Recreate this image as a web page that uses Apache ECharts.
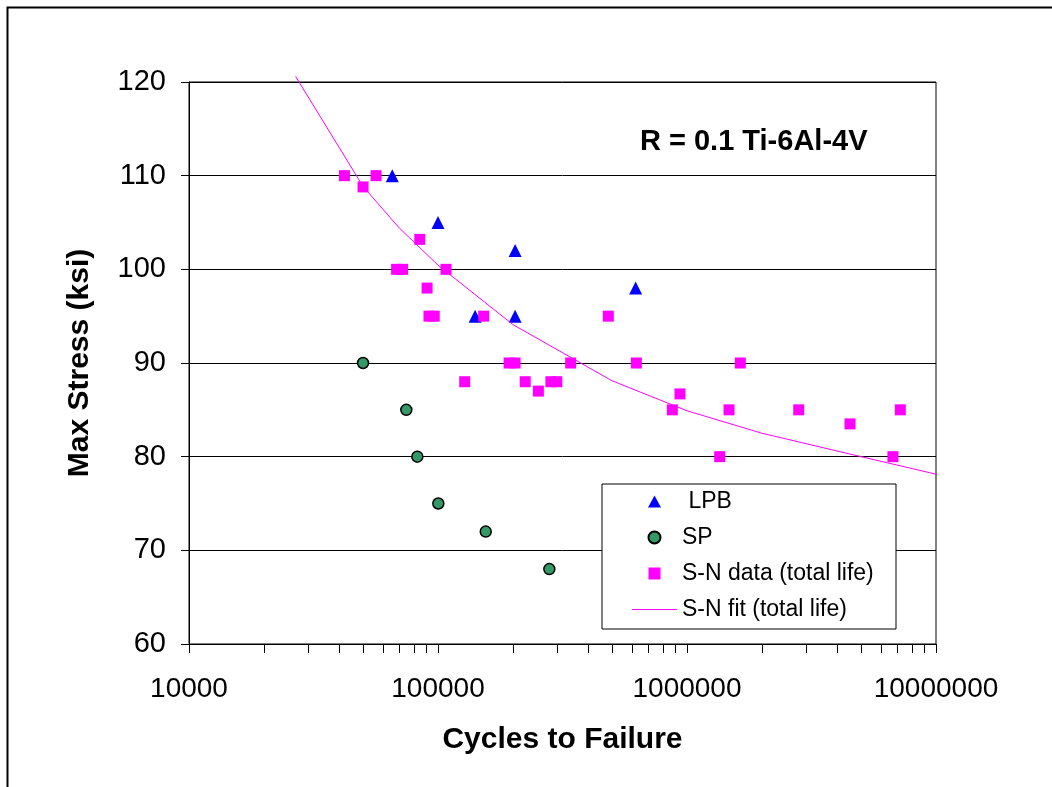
<!DOCTYPE html>
<html>
<head>
<meta charset="utf-8">
<script src="https://cdn.jsdelivr.net/npm/echarts@6/dist/echarts.min.js"></script>
<style>
html,body{margin:0;padding:0;background:#fff;}
#chart{width:1052px;height:787px;}
</style>
</head>
<body>
<div id="chart"></div>
<script>
// ---- data ----
const lpbN = [65500, 100000, 204000, 141000, 204000, 622000];
const lpbS = [110, 105, 102, 95, 95, 98];

const spN = [50000, 74600, 82600, 100300, 155500, 280000];
const spS = [90, 85, 80, 75, 72, 68];

const snN = [42100, 56400, 50000, 84500, 68200, 72100, 107700, 90400, 92000, 96600,
             152600, 193000, 204000, 341000, 128000, 224000, 253000, 284000, 300000, 483000,
             626000, 1637000, 937000, 873000, 1475000, 2810000, 7190000, 4515000, 1353000, 6714000];
const snS = [110, 110, 108.8, 103.2, 100, 100, 100, 98, 95, 95,
             95, 90, 90, 90, 88, 88, 87, 88, 88, 95,
             90, 90, 86.7, 85, 85, 85, 85, 83.5, 80, 80];

const fitN = [26800, 50000, 70000, 100000, 200000, 500000, 1000000, 2000000, 5000000, 10700000];
const fitS = [120.6, 108.85, 104.4, 100.45, 94.1, 88.1, 84.9, 82.5, 80.0, 77.95];

const xLabelValues = [10000, 100000, 1000000, 10000000];
const xTickValues = [];
for (let d = 10000; d < 10000000; d *= 10) {
  for (let k = 1; k < 10; k++) xTickValues.push(d * k);
}
xTickValues.push(10000000);

const seriesNames = [' LPB', 'SP', 'S-N data (total life)', 'S-N fit (total life)'];
const annotation = 'R = 0.1 Ti-6Al-4V';
const xTitle = 'Cycles to Failure';
const yTitle = 'Max Stress (ksi)';

const zip = (a, b) => a.map((v, i) => [v, b[i]]);
const FONT = '"Liberation Sans", Arial, sans-serif';

const chart = echarts.init(document.getElementById('chart'), null, {renderer: 'canvas'});
chart.setOption({
  backgroundColor: '#fff',
  animation: false,
  textStyle: {fontFamily: FONT, color: '#000'},
  grid: {
    left: 189, right: 116, top: 82, bottom: 143,
    show: true, borderColor: '#000', borderWidth: 1, backgroundColor: 'transparent'
  },
  xAxis: {
    type: 'log', logBase: 10, min: 10000, max: 10000000,
    name: xTitle, nameLocation: 'middle', nameGap: 81,
    nameTextStyle: {fontFamily: FONT, fontSize: 30, fontWeight: 'bold', color: '#000'},
    axisLine: {show: true, lineStyle: {color: '#000', width: 1}},
    axisTick: {show: true, inside: false, length: 9, lineStyle: {color: '#000', width: 1}, customValues: xTickValues},
    axisLabel: {show: true, margin: 31, fontFamily: FONT, fontSize: 28, color: '#000',
      customValues: xLabelValues, formatter: v => String(Math.round(v))},
    splitLine: {show: false},
    minorTick: {show: false}
  },
  yAxis: {
    type: 'value', min: 60, max: 120, interval: 10,
    name: yTitle, nameLocation: 'middle', nameGap: 94, nameRotate: 90,
    nameTextStyle: {fontFamily: FONT, fontSize: 30, fontWeight: 'bold', color: '#000'},
    axisLine: {show: true, lineStyle: {color: '#000', width: 1}},
    axisTick: {show: true, inside: false, length: 8, lineStyle: {color: '#000', width: 1}},
    axisLabel: {show: true, margin: 23, fontFamily: FONT, fontSize: 29, color: '#000'},
    splitLine: {show: true, lineStyle: {color: '#000', width: 1}}
  },
  legend: {
    orient: 'vertical', left: 632, top: 490, padding: 0,
    itemWidth: 45, itemHeight: 12, itemGap: 13,
    symbolKeepAspect: true,
    data: [
      {name: seriesNames[0], icon: 'path://M6.5,0L13,12L0,12Z'},
      {name: seriesNames[1], icon: 'circle'},
      {name: seriesNames[2], icon: 'path://M0,0H11V11H0Z'},
      {name: seriesNames[3], icon: 'path://M0,0H45V1H0Z'}
    ],
    textStyle: {fontFamily: FONT, fontSize: 23, color: '#000', lineHeight: 22},
    z: 10
  },
  graphic: [
    {type: 'rect', z: 0, silent: true,
     shape: {x: 7.5, y: 7.5, width: 1200, height: 1000},
     style: {fill: null, stroke: '#000', lineWidth: 2}},
    {type: 'rect', z: 5, silent: true,
     shape: {x: 602, y: 484, width: 294, height: 145},
     style: {fill: '#fff', stroke: '#000', lineWidth: 1}},
    {type: 'text', z: 5, silent: true, x: 640, y: 142,
     style: {text: annotation, font: 'bold 29px ' + FONT, fill: '#000', verticalAlign: 'middle', align: 'left'}}
  ],
  series: [
    {name: seriesNames[0], type: 'scatter', data: zip(lpbN, lpbS), symbolKeepAspect: true,
     symbol: 'triangle', symbolSize: 13, itemStyle: {color: '#0000FF', opacity: 1}},
    {name: seriesNames[1], type: 'scatter', data: zip(spN, spS), symbolKeepAspect: true,
     symbol: 'circle', symbolSize: 11, itemStyle: {color: '#339966', borderColor: '#000', borderWidth: 1.5, opacity: 1}},
    {name: seriesNames[2], type: 'scatter', data: zip(snN, snS), symbolKeepAspect: true,
     symbol: 'rect', symbolSize: 11, itemStyle: {color: '#FF00FF', opacity: 1}},
    {name: seriesNames[3], type: 'line', data: zip(fitN, fitS),
     symbol: 'none', showSymbol: false, clip: false, smooth: false,
     lineStyle: {color: '#FF00FF', width: 1}, itemStyle: {color: '#FF00FF'}}
  ]
});
</script>
</body>
</html>
